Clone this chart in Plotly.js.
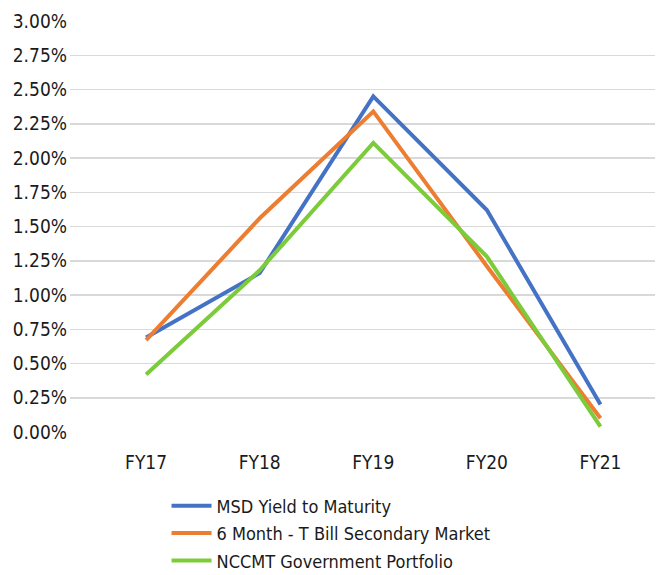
<!DOCTYPE html>
<html>
<head>
<meta charset="utf-8">
<script src="https://cdn.plot.ly/plotly-3.0.1.min.js"></script>
<style>html,body{margin:0;padding:0;background:#fff;}#chart{width:663px;height:575px;}</style>
</head>
<body>
<div id="chart"></div>
<script>
const categories = ["FY17", "FY18", "FY19", "FY20", "FY21"];
const msdYield = [0.0069, 0.0116, 0.0245, 0.0162, 0.0020];
const tBill6m = [0.0067, 0.0156, 0.0234, 0.0121, 0.0010];
const nccmtGov = [0.0042, 0.0118, 0.0211, 0.0128, 0.0004];
const seriesNames = ["MSD Yield to Maturity", "6 Month - T Bill Secondary Market", "NCCMT Government Portfolio"];
const yTickVals = [0, 0.0025, 0.005, 0.0075, 0.01, 0.0125, 0.015, 0.0175, 0.02, 0.0225, 0.025, 0.0275, 0.03];

const colors = ["#4472C4", "#ED7D31", "#7CCB3B"];
const data = [msdYield, tBill6m, nccmtGov].map((vals, i) => ({
  type: "scatter",
  mode: "lines",
  x: categories,
  y: vals,
  name: seriesNames[i],
  legendgroup: "g" + i,
  line: {color: colors[i], width: 4}
}));

const font = "'DejaVu Sans Condensed', 'DejaVu Sans', sans-serif";
const layout = {
  width: 663, height: 575,
  margin: {l: 70, r: 8, t: 20.5, b: 142.7, autoexpand: false},
  paper_bgcolor: "#fff", plot_bgcolor: "#fff",
  font: {family: font, size: 18, color: "#1a1a1a"},
  showlegend: true,
  xaxis: {
    type: "category",
    range: [-0.67, 4.48],
    showgrid: false, zeroline: false, showline: false,
    ticks: "", ticklabelstandoff: 17,
    tickfont: {size: 19, color: "#1a1a1a"}
  },
  yaxis: {
    range: [0, 0.03],
    tickvals: yTickVals,
    tickformat: ".2%",
    showgrid: true, gridcolor: "#d9d9d9", gridwidth: 1.5,
    zeroline: false, showline: false, ticks: "",
    ticklabelstandoff: 2,
    tickfont: {size: 19, color: "#1a1a1a"}
  },
  legend: {
    orientation: "v",
    x: 0.165, xanchor: "left",
    y: -0.135, yanchor: "top",
    font: {size: 18, color: "#1a1a1a"},
    itemwidth: 40,
    tracegroupgap: 1,
    maxheight: 300,
    bgcolor: "rgba(0,0,0,0)"
  }
};

Plotly.newPlot("chart", data, layout, {displayModeBar: false, staticPlot: true});
</script>
</body>
</html>
